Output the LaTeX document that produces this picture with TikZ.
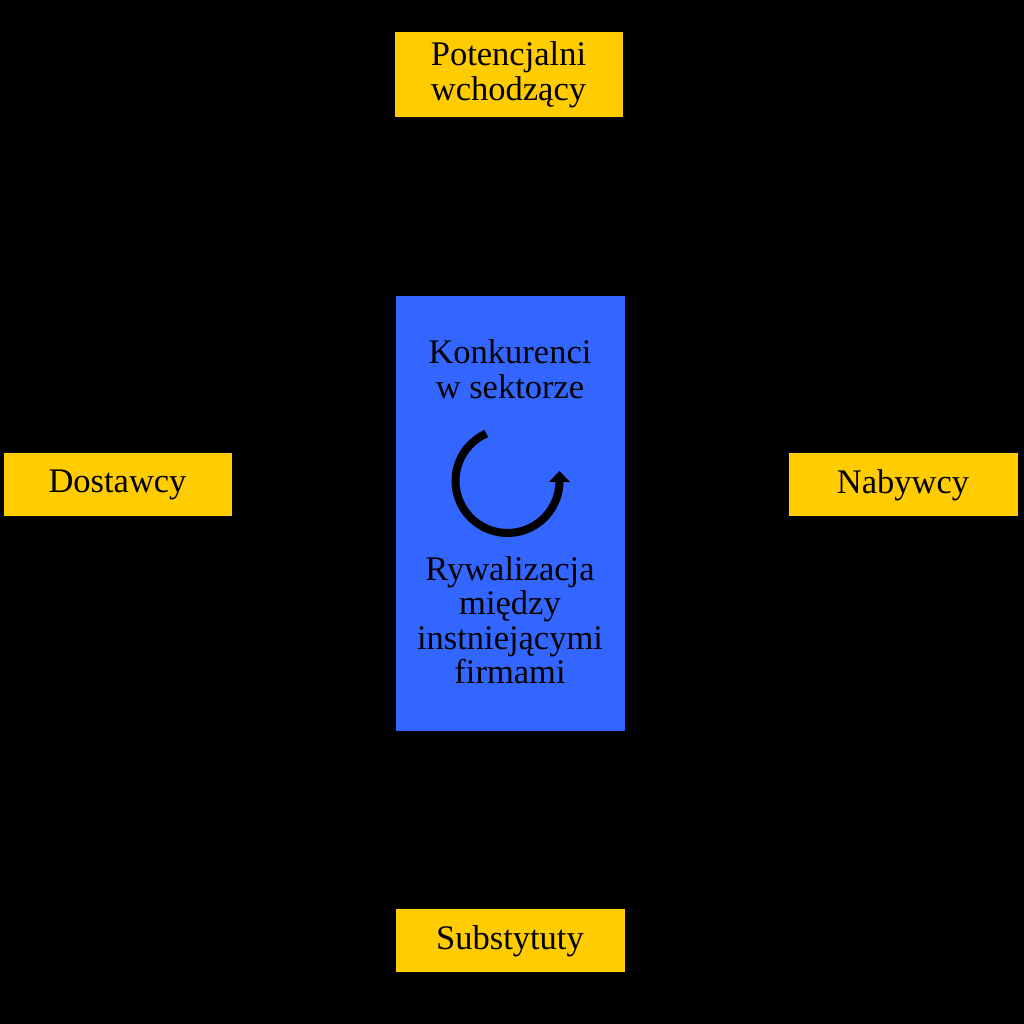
\documentclass[tikz,border=0pt]{standalone}
\usepackage{fontspec}
\setmainfont{Liberation Serif}
\definecolor{boxyellow}{HTML}{FFCC00}
\definecolor{boxblue}{HTML}{3366FF}
\begin{document}
\begin{tikzpicture}[x=1pt,y=1pt,
  force/.style={draw=black, line width=1pt, fill=boxyellow, inner sep=0pt, align=center,
    font=\fontsize{34.5}{35}\selectfont},
  lbl/.style={align=center, inner sep=0pt, font=\fontsize{34.5}{34.5}\selectfont}]
\fill[black] (0,0) rectangle (1024,1024);
\useasboundingbox (0,0) rectangle (1024,1024);
\node[force, minimum width=229, minimum height=86] (entrants) at (508.5,949) {Potencjalni\\wchodzący};
\node[force, minimum width=229, minimum height=64] (suppliers) at (117.5,539) {Dostawcy};
\node[force, minimum width=230, minimum height=64] (buyers) at (903,539) {Nabywcy};
\node[force, minimum width=230, minimum height=64] (subst) at (510,83) {Substytuty};
\node[draw=black, line width=1pt, fill=boxblue, minimum width=230, minimum height=436, inner sep=0pt] (rivalry) at (510,510) {};
\node[lbl] (comp) at (510,655) {Konkurenci\\w sektorze};
\node[lbl] (rival) at (510,404) {Rywalizacja\\między\\instniejącymi\\firmami};
\coordinate (cyc) at (507.5,543);
\draw[line width=8pt] ([shift={(114:52)}]cyc) arc[start angle=114, end angle=360, radius=52];
\fill (549,542) -- (570,542) -- (559.5,553) -- cycle;
\end{tikzpicture}
\end{document}
